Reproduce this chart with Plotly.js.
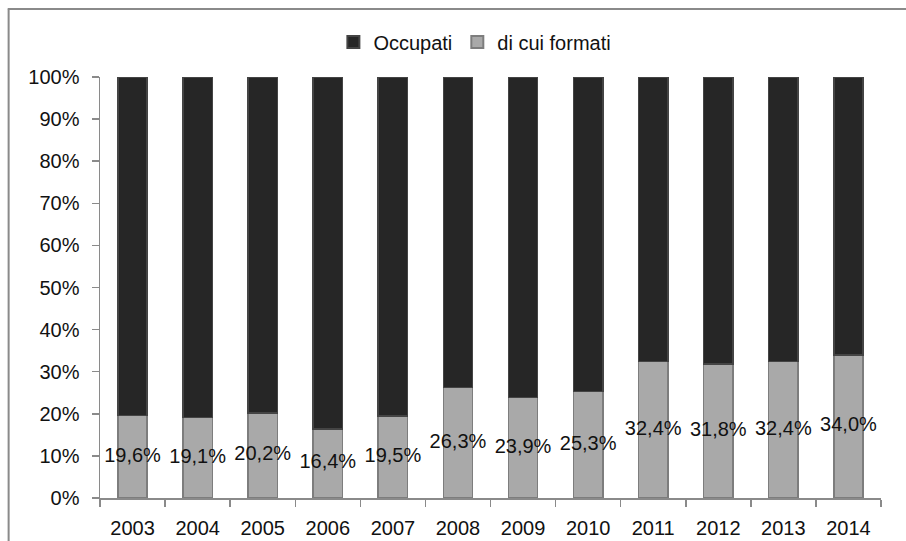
<!DOCTYPE html>
<html>
<head>
<meta charset="utf-8">
<script src="https://cdn.plot.ly/plotly-3.0.1.min.js"></script>
<style>html,body{margin:0;padding:0;background:#fff;}#chart{width:906px;height:541px;}</style>
</head>
<body>
<div id="chart"></div>
<script>
const years = ['2003','2004','2005','2006','2007','2008','2009','2010','2011','2012','2013','2014'];
const formati = [19.6, 19.1, 20.2, 16.4, 19.5, 26.3, 23.9, 25.3, 32.4, 31.8, 32.4, 34.0];
const yTicks = [0,10,20,30,40,50,60,70,80,90,100];

const occupati = formati.map(v => 100 - v);
const labels = formati.map(v => v.toFixed(1).replace('.', ',') + '%');
const labelY = formati.map(v => v / 2);
const FONT = 'Liberation Sans, Arial, sans-serif';

const traces = [
  {
    type: 'bar', name: 'di cui formati', x: years, y: formati,
    marker: {color: '#a9a9a9', line: {color: '#7d7d7d', width: 1.5}},
    width: 0.45, hoverinfo: 'none', showlegend: true, legendrank: 2
  },
  {
    type: 'bar', name: 'Occupati', x: years, y: occupati,
    marker: {color: '#262626', line: {color: '#444444', width: 1.5}},
    width: 0.45, hoverinfo: 'none', showlegend: true, legendrank: 1
  },
  {
    type: 'scatter', mode: 'text', x: years, y: labelY, text: labels,
    textposition: 'middle center', textfont: {family: FONT, size: 20, color: '#111'},
    showlegend: false, hoverinfo: 'none', cliponaxis: false
  }
];

const layout = {
  width: 906, height: 541,
  margin: {l: 100, r: 25, t: 77, b: 43, pad: 0},
  paper_bgcolor: '#fff', plot_bgcolor: '#fff',
  barmode: 'stack',
  font: {family: FONT, size: 20, color: '#111'},
  showlegend: true,
  legend: {
    orientation: 'h', x: 0.48, xanchor: 'center', xref: 'paper',
    y: 1.083, yanchor: 'middle', yref: 'paper',
    font: {family: FONT, size: 20, color: '#111'},
    traceorder: 'normal', itemwidth: 30, itemsizing: 'constant'
  },
  xaxis: {
    type: 'category', tickmode: 'array', tickvals: years, ticktext: years,
    showgrid: false, zeroline: false,
    showline: true, linecolor: '#8a8a8a', linewidth: 1.5,
    ticks: 'outside', tickson: 'boundaries', ticklen: 7, tickcolor: '#8a8a8a', tickwidth: 1.5,
    ticklabelstandoff: 11,
    tickfont: {family: FONT, size: 20, color: '#111'},
    range: [-0.5, 11.5], fixedrange: true
  },
  yaxis: {
    range: [0, 100], tickmode: 'array', tickvals: yTicks,
    ticktext: yTicks.map(v => v + '%'),
    showgrid: false, zeroline: false,
    showline: true, linecolor: '#8a8a8a', linewidth: 1.5,
    ticks: 'outside', ticklen: 7, tickcolor: '#8a8a8a', tickwidth: 1.5,
    ticklabelstandoff: 8,
    tickfont: {family: FONT, size: 20, color: '#111'},
    fixedrange: true
  },
  shapes: [
    {type: 'line', xref: 'paper', yref: 'paper', x0: -0.118, x1: 1.04, y0: 1.1615, y1: 1.1615,
     line: {color: '#8a8a8a', width: 2}},
    {type: 'line', xref: 'paper', yref: 'paper', x0: -0.117, x1: -0.117, y0: 1.163, y1: -0.2,
     line: {color: '#8a8a8a', width: 2}}
  ]
};

Plotly.newPlot('chart', traces, layout, {displayModeBar: false, staticPlot: true});
</script>
</body>
</html>
